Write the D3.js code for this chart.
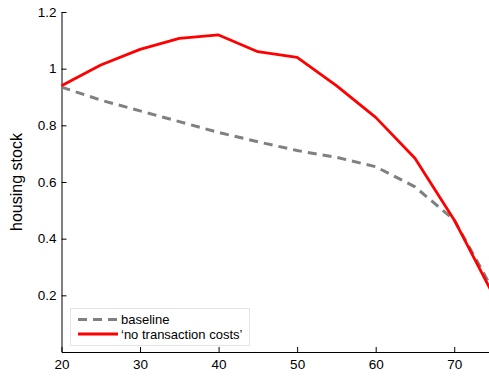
<!DOCTYPE html>
<html><head><meta charset="utf-8">
<script src="https://cdn.jsdelivr.net/npm/d3@7"></script>
<style>body{margin:0;background:#fff;}svg{display:block;font-family:"Liberation Sans",Arial,sans-serif;}</style>
</head><body>
<svg id="c" width="489" height="376"></svg>
<script>
const ages = [20,25,30,35,40,45,50,55,60,65,70,75];
const baseline = [0.935,0.889,0.851,0.813,0.775,0.742,0.711,0.687,0.654,0.583,0.466,0.215];
const noTC = [0.940,1.013,1.068,1.107,1.119,1.060,1.040,0.940,0.828,0.684,0.466,0.200];
const xTicks = [20,30,40,50,60,70];
const yTicks = [0.2,0.4,0.6,0.8,1,1.2];
const seriesNames = ["baseline","\u2018no transaction costs\u2019"];

const svg = d3.select("#c");
const x = d3.scaleLinear().domain([20,75]).range([61.5,493.5]);
const y = d3.scaleLinear().domain([0,1.2]).range([352,12]);

const g = svg.append("g");
const xAx = g.append("g").attr("transform","translate(0,352)")
  .call(d3.axisBottom(x).tickValues(xTicks).tickSizeInner(-5).tickSizeOuter(0).tickPadding(7).tickFormat(d3.format("d")));
const yAx = g.append("g").attr("transform","translate(61.5,0)")
  .call(d3.axisLeft(y).tickValues(yTicks).tickSizeInner(-5).tickSizeOuter(0).tickPadding(5).tickFormat(d=>String(d)));
[xAx,yAx].forEach(a=>{
  a.select(".domain").attr("stroke","#000").attr("stroke-width",1);
  a.selectAll(".tick line").attr("stroke","#000");
  a.selectAll("text").attr("font-size",13.5).attr("fill","#000").attr("font-family","Liberation Sans, Arial, sans-serif");
});

svg.append("text").attr("transform","translate(22,182) rotate(-90)")
  .attr("text-anchor","middle").attr("font-size",16).text("housing stock");

const line = d3.line().x((d,i)=>x(ages[i])).y(d=>y(d));
const plot = svg.append("g");
plot.append("path").datum(baseline).attr("d",line).attr("fill","none")
  .attr("stroke","#808080").attr("stroke-width",3).attr("stroke-dasharray","9,6");
plot.append("path").datum(noTC).attr("d",line).attr("fill","none")
  .attr("stroke","#ff0000").attr("stroke-width",2.8).attr("stroke-linejoin","round");

const lg = svg.append("g");
lg.append("rect").attr("x",70.5).attr("y",308.5).attr("width",179).attr("height",37)
  .attr("fill","#fff").attr("stroke","#e4e4e4");
const styles = [{c:"#808080",w:3,d:"9,6"},{c:"#ff0000",w:2.8,d:null}];
seriesNames.forEach((n,i)=>{
  const yy = 319.5 + i*14.5;
  lg.append("line").attr("x1",78).attr("x2",118).attr("y1",yy).attr("y2",yy)
    .attr("stroke",styles[i].c).attr("stroke-width",styles[i].w).attr("stroke-dasharray",styles[i].d);
  lg.append("text").attr("x",121).attr("y",yy).attr("dy","0.35em").attr("font-size",13).text(n);
});
</script>
</body></html>
